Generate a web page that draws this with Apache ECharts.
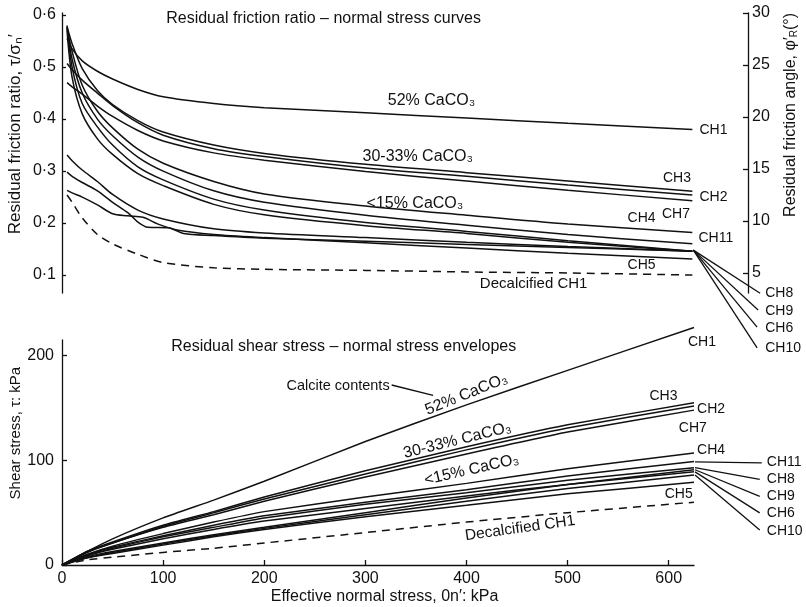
<!DOCTYPE html>
<html><head><meta charset="utf-8">
<script src="https://cdn.jsdelivr.net/npm/echarts@6/dist/echarts.min.js"></script>
<style>html,body{margin:0;padding:0;background:#fff}#c{width:806px;height:607px}</style>
</head><body><div id="c"></div>
<script>
// ================= DATA =================
// Top panel: residual friction ratio tau/sigma_n' vs effective normal stress (kPa)
const sigmaTop = [5, 10, 20, 35, 50, 75, 100, 150, 200, 300, 400, 500, 623];
const ratioCH1  = [0.555, 0.535, 0.512, 0.492, 0.477, 0.457, 0.443, 0.430, 0.422, 0.412, 0.402, 0.392, 0.380];
const ratioCH3  = [0.578, 0.545, 0.497, 0.455, 0.428, 0.397, 0.375, 0.350, 0.334, 0.313, 0.297, 0.281, 0.261];
const ratioCH2  = [0.507, 0.495, 0.475, 0.450, 0.426, 0.393, 0.369, 0.343, 0.328, 0.306, 0.290, 0.273, 0.254];
const ratioCH7  = [0.470, 0.462, 0.448, 0.425, 0.405, 0.378, 0.358, 0.335, 0.321, 0.299, 0.281, 0.263, 0.243];
const ratioCH4  = [0.575, 0.530, 0.465, 0.415, 0.383, 0.342, 0.315, 0.280, 0.256, 0.233, 0.215, 0.198, 0.182];
const ratioCH11 = [0.576, 0.515, 0.450, 0.400, 0.368, 0.327, 0.300, 0.262, 0.240, 0.215, 0.196, 0.178, 0.160];
const ratioCH8  = [0.580, 0.500, 0.430, 0.385, 0.350, 0.308, 0.283, 0.246, 0.225, 0.201, 0.184, 0.166, 0.146];
const ratioCH6  = [0.570, 0.480, 0.410, 0.362, 0.332, 0.295, 0.272, 0.236, 0.216, 0.195, 0.180, 0.163, 0.146];
const ratioCH9  = [0.331, 0.320, 0.302, 0.280, 0.255, 0.225, 0.208, 0.189, 0.181, 0.172, 0.163, 0.155, 0.146];
const ratioDecalcified = [0.254, 0.240, 0.210, 0.178, 0.160, 0.140, 0.124, 0.114, 0.111, 0.109, 0.106, 0.104, 0.100];
const sigmaCH10 = [5, 10, 20, 35, 50, 65, 75, 85, 105, 120, 150, 200, 300, 400, 500, 623];
const ratioCH10 = [0.298, 0.290, 0.278, 0.262, 0.240, 0.220, 0.202, 0.192, 0.191, 0.180, 0.176, 0.171, 0.165, 0.159, 0.153, 0.146];
const sigmaCH5  = [5, 10, 20, 35, 50, 65, 80, 95, 115, 150, 200, 300, 400, 500, 623];
const ratioCH5  = [0.263, 0.258, 0.250, 0.235, 0.218, 0.214, 0.211, 0.198, 0.186, 0.178, 0.172, 0.162, 0.152, 0.142, 0.131];

// Bottom panel: residual shear stress (kPa) vs effective normal stress (kPa)
const sigmaBot = [0, 25, 50, 100, 150, 200, 300, 400, 500, 625];
const tauCH1  = [0, 13, 25, 45, 62, 80, 118, 153, 186, 227];
const tauCH3  = [0, 13, 22, 38, 51, 65, 90, 113, 134, 155];
const tauCH2  = [0, 13, 21, 37, 50, 63, 87, 110, 131, 152];
const tauCH7  = [0, 12, 21, 36, 48, 61, 84, 106, 127, 148];
const tauCH4  = [0, 10, 18, 30, 41, 51, 65, 78, 92, 107];
const tauCH11 = [0, 10, 17, 28, 38, 47, 60, 72, 85, 99];
const tauCH8  = [0, 9, 16, 27, 36, 45, 58, 69, 81, 93];
const tauCH9  = [0, 8, 13, 21, 29, 36, 50, 64, 77, 91];
const tauCH6  = [0, 9, 15, 25, 34, 42, 54, 66, 77, 89];
const tauCH10 = [0, 7, 12, 20, 28, 35, 48, 61, 73, 86];
const tauCH5  = [0, 7, 11, 19, 27, 34, 46, 57, 68, 79];
const tauDecalcified = [0, 5, 7.5, 12, 16, 21, 31, 41, 50, 60];

// Tick values
const ratioTicks = [0.1, 0.2, 0.3, 0.4, 0.5, 0.6];
const angleTicks = [5, 10, 15, 20, 25, 30];
const stressTicks = [0, 100, 200, 300, 400, 500, 600];
const shearTicks = [0, 100, 200];

// ================= ANNOTATIONS (data-space anchors) =================
const topLeaderFrom = [624, 0.148];
const topLeaderTo = [[690, 0.065], [688, 0.033], [687, 0.000], [687, -0.040]];
const botLeaderFrom = [[626, 98.6], [626, 93], [626, 91], [626, 89], [626, 86]];
const botLeaderTo = [[692, 97.6], [690, 81.8], [690, 65.5], [690, 49.8], [690, 33.5]];
const calciteLeader = [[326, 172], [367, 162]];
// [text, x, y, align, rotationDeg, fontSize]
const topTexts = [
  ['Residual friction ratio – normal stress curves', 103, 0.594, 'left', 0, 16],
  ['52% CaCO₃', 322, 0.436, 'left', 0, 16],
  ['30-33% CaCO₃', 297, 0.327, 'left', 0, 16],
  ['<15% CaCO₃', 301, 0.238, 'left', 0, 16],
  ['CH1', 630, 0.379, 'left', 0, 14],
  ['CH3', 594, 0.287, 'left', 0, 14],
  ['CH2', 630, 0.250, 'left', 0, 14],
  ['CH4', 559, 0.210, 'left', 0, 14],
  ['CH7', 593, 0.218, 'left', 0, 14],
  ['CH11', 629, 0.171, 'left', 0, 14],
  ['CH5', 559, 0.119, 'left', 0, 14],
  ['Decalcified CH1', 413, 0.083, 'left', 0, 15],
  ['CH8', 695, 0.066, 'left', 0, 14],
  ['CH9', 695, 0.031, 'left', 0, 14],
  ['CH6', 695, -0.002, 'left', 0, 14],
  ['CH10', 695, -0.040, 'left', 0, 14],
  ['Residual friction ratio, τ/σₙ′', -46, 0.371, 'center', 90, 17],
  ['Residual friction angle, φ′{s|R}(°)', 720, 0.408, 'center', 90, 16]
];
const botTexts = [
  ['Residual shear stress – normal stress envelopes', 108, 209, 'left', 0, 16],
  ['Calcite contents', 222, 171, 'left', 0, 14.5],
  ['52% CaCO₃', 400, 163, 'center', 22, 16],
  ['30-33% CaCO₃', 391, 119, 'center', 14, 16],
  ['<15% CaCO₃', 405, 91, 'center', 13, 16],
  ['Decalcified CH1', 453, 35, 'center', 8, 15.5],
  ['CH1', 619, 213, 'left', 0, 14],
  ['CH3', 581, 161, 'left', 0, 14],
  ['CH2', 628, 149, 'left', 0, 14],
  ['CH7', 610, 131, 'left', 0, 14],
  ['CH4', 628, 110, 'left', 0, 14],
  ['CH5', 596, 68, 'left', 0, 14],
  ['CH11', 697, 98.6, 'left', 0, 14],
  ['CH8', 697, 82, 'left', 0, 14],
  ['CH9', 697, 66, 'left', 0, 14],
  ['CH6', 697, 50, 'left', 0, 14],
  ['CH10', 697, 32.5, 'left', 0, 14],
  ['Shear stress, τ: kPa', -45.5, 126, 'center', 90, 15],
  ['Effective normal stress, 0n′: kPa', 319, -30.6, 'center', 0, 16]
];

// ================= CHART =================
const FONT = '"Liberation Sans", Arial, Helvetica, sans-serif';
const INK = '#111';
const zip = (xs, ys) => xs.map((x, i) => [x, ys[i]]);

function curve(xs, ys, xi, yi, dashed, smooth) {
  return {
    type: 'line', xAxisIndex: xi, yAxisIndex: yi, data: zip(xs, ys),
    smooth: smooth, showSymbol: false, symbol: 'none', silent: true, clip: false,
    lineStyle: { color: INK, width: 1.5, type: dashed ? [8, 6] : 'solid' }, z: 3
  };
}

const series = [
  curve(sigmaTop, ratioCH1, 0, 0, false, 0.3),
  curve(sigmaTop, ratioCH3, 0, 0, false, 0.3),
  curve(sigmaTop, ratioCH2, 0, 0, false, 0.3),
  curve(sigmaTop, ratioCH7, 0, 0, false, 0.3),
  curve(sigmaTop, ratioCH4, 0, 0, false, 0.3),
  curve(sigmaTop, ratioCH11, 0, 0, false, 0.3),
  curve(sigmaTop, ratioCH8, 0, 0, false, 0.3),
  curve(sigmaTop, ratioCH6, 0, 0, false, 0.3),
  curve(sigmaTop, ratioCH9, 0, 0, false, 0.3),
  curve(sigmaCH10, ratioCH10, 0, 0, false, 0.3),
  curve(sigmaCH5, ratioCH5, 0, 0, false, 0.3),
  curve(sigmaTop, ratioDecalcified, 0, 0, true, 0.3)
];
const firstBottom = series.length;
series.push(
  curve(sigmaBot, tauCH1, 1, 2, false, 0.15),
  curve(sigmaBot, tauCH3, 1, 2, false, 0.15),
  curve(sigmaBot, tauCH2, 1, 2, false, 0.15),
  curve(sigmaBot, tauCH7, 1, 2, false, 0.15),
  curve(sigmaBot, tauCH4, 1, 2, false, 0.15),
  curve(sigmaBot, tauCH11, 1, 2, false, 0.15),
  curve(sigmaBot, tauCH8, 1, 2, false, 0.15),
  curve(sigmaBot, tauCH9, 1, 2, false, 0.15),
  curve(sigmaBot, tauCH6, 1, 2, false, 0.15),
  curve(sigmaBot, tauCH10, 1, 2, false, 0.15),
  curve(sigmaBot, tauCH5, 1, 2, false, 0.15),
  curve(sigmaBot, tauDecalcified, 1, 2, true, 0.15)
);

const labelStyle = { color: INK, fontFamily: FONT, fontSize: 16 };
const axisLineStyle = { show: true, lineStyle: { color: INK, width: 1.3 } };
const tickStyle = { color: INK, width: 1.3 };

const option = {
  animation: false,
  backgroundColor: '#fff',
  grid: [
    { left: 62, top: 13, width: 686, height: 280 },
    { left: 62, top: 340, width: 632, height: 225 }
  ],
  xAxis: [
    { type: 'value', gridIndex: 0, min: 0, max: 678, show: false },
    {
      type: 'value', gridIndex: 1, min: 0, max: 625,
      axisLine: axisLineStyle,
      axisTick: { show: true, inside: true, length: 5, customValues: stressTicks, lineStyle: tickStyle },
      axisLabel: { customValues: stressTicks, margin: 6, ...labelStyle },
      splitLine: { show: false }
    }
  ],
  yAxis: [
    {
      type: 'value', gridIndex: 0, min: 0.0655, max: 0.604,
      axisLine: axisLineStyle,
      axisTick: { show: true, inside: true, length: 4, customValues: ratioTicks, lineStyle: tickStyle },
      axisLabel: { customValues: ratioTicks, margin: 6, formatter: v => v.toFixed(1).replace('.', '·'), ...labelStyle },
      splitLine: { show: false }
    },
    {
      type: 'value', gridIndex: 0, position: 'right', min: 3.08, max: 30,
      axisLine: axisLineStyle,
      axisTick: { show: true, inside: true, length: 5, customValues: angleTicks, lineStyle: tickStyle },
      axisLabel: { customValues: angleTicks, margin: 4, ...labelStyle },
      splitLine: { show: false }
    },
    {
      type: 'value', gridIndex: 1, min: 0, max: 215,
      axisLine: axisLineStyle,
      axisTick: { show: true, inside: true, length: 5, customValues: shearTicks, lineStyle: tickStyle },
      axisLabel: { customValues: shearTicks, margin: 8, ...labelStyle },
      splitLine: { show: false }
    }
  ],
  series: series
};

const chart = echarts.init(document.getElementById('c'), null, { renderer: 'canvas' });
chart.setOption(option);

const graphics = [];
const toPx = (si, p) => chart.convertToPixel({ seriesIndex: si }, p);
function addTexts(list, si) {
  list.forEach(([t, x, y, align, rot, size]) => {
    const p = toPx(si, [x, y]);
    graphics.push({
      type: 'text', x: p[0], y: p[1], rotation: rot * Math.PI / 180, silent: true, z: 10,
      style: {
        text: t, font: size + 'px ' + FONT, fill: INK, align: align, verticalAlign: 'middle',
        rich: { s: { fontFamily: FONT, fontSize: 10, fill: INK, padding: [8, 0, 0, 0] } }
      }
    });
  });
}
function addLeader(si, a, b) {
  const p = toPx(si, a), q = toPx(si, b);
  graphics.push({
    type: 'line', silent: true, z: 10,
    shape: { x1: p[0], y1: p[1], x2: q[0], y2: q[1] },
    style: { stroke: INK, lineWidth: 1.3 }
  });
}
addTexts(topTexts, 0);
addTexts(botTexts, firstBottom);
topLeaderTo.forEach(q => addLeader(0, topLeaderFrom, q));
botLeaderFrom.forEach((p, i) => addLeader(firstBottom, p, botLeaderTo[i]));
addLeader(firstBottom, calciteLeader[0], calciteLeader[1]);
chart.setOption({ graphic: graphics });
</script>
</body></html>
